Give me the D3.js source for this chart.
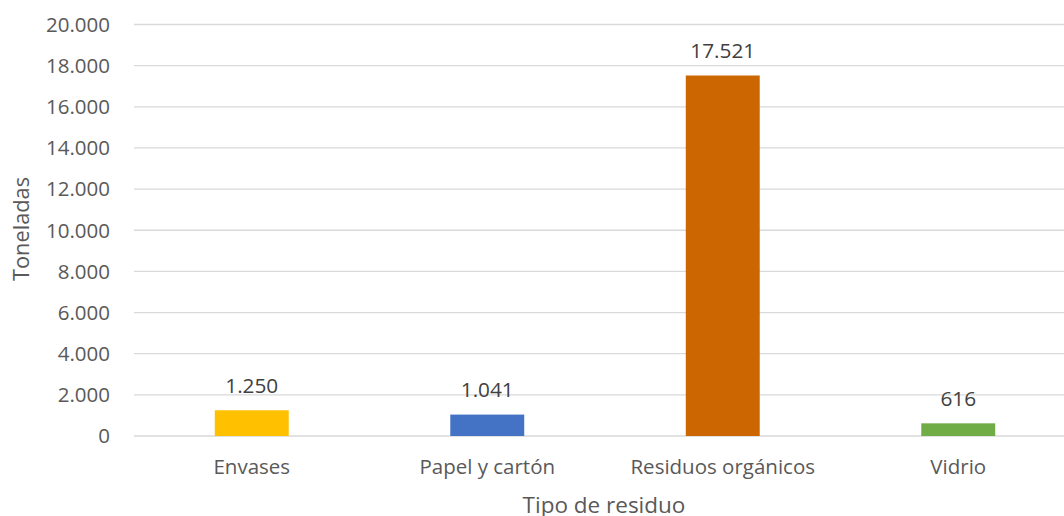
<!DOCTYPE html>
<html><head><meta charset="utf-8">
<script src="https://cdn.jsdelivr.net/npm/d3@7"></script>
<style>body{margin:0;background:#fff}svg{display:block}text{font-family:"Open Sans",sans-serif}</style>
</head><body>
<svg id="c" width="1064" height="516"></svg>
<script>
const categories = ["Envases", "Papel y cartón", "Residuos orgánicos", "Vidrio"];
const values = [1250, 1041, 17521, 616];
const colors = ["#FFC000", "#4472C4", "#CC6600", "#70AD47"];
const yTicks = [0, 2000, 4000, 6000, 8000, 10000, 12000, 14000, 16000, 18000, 20000];
const yTitle = "Toneladas";
const xTitle = "Tipo de residuo";

(function () {
const fmt = v => d3.format(",")(v).replace(/,/g, ".");
const svg = d3.select("#c");
const pl = 134, pr = 1076, pt = 24.5, pb = 436;
const font = '"Open Sans", sans-serif';
const x = d3.scaleBand().domain(categories).range([pl, pr]).paddingInner(0.686).paddingOuter(0.343);
const y = d3.scaleLinear().domain([0, 20000]).range([pb, pt]);

const grid = svg.append("g");
grid.selectAll("line").data(yTicks).join("line")
  .attr("x1", pl).attr("x2", pr)
  .attr("y1", d => y(d)).attr("y2", d => y(d))
  .attr("stroke", "#d9d9d9").attr("stroke-width", 1.3);

const yAxis = d3.axisLeft(y).tickValues(yTicks).tickFormat(fmt).tickSize(0).tickPadding(0);
const ya = svg.append("g").attr("transform", `translate(110,0)`).call(yAxis);
ya.select(".domain").remove();
ya.selectAll("text").attr("fill", "#595959").style("font-size", "20.5px").style("font-family", font).attr("dy", "0.33em");

const xAxis = d3.axisBottom(x).tickSize(0).tickPadding(0);
const xa = svg.append("g").attr("transform", `translate(0,${pb})`).call(xAxis);
xa.select(".domain").remove();
xa.selectAll("text").attr("fill", "#595959").style("font-size", "20.5px").style("font-family", font).attr("y", 31).attr("dy", "0.35em");

svg.append("g").selectAll("rect").data(values).join("rect")
  .attr("x", (d, i) => x(categories[i]))
  .attr("width", x.bandwidth())
  .attr("y", d => y(d))
  .attr("height", d => y(0) - y(d))
  .attr("fill", (d, i) => colors[i]);

svg.append("g").selectAll("text").data(values).join("text")
  .attr("x", (d, i) => x(categories[i]) + x.bandwidth() / 2)
  .attr("y", d => y(d) - 25)
  .attr("dy", "0.35em")
  .attr("text-anchor", "middle")
  .attr("fill", "#404040").style("font-size", "20.8px").style("font-family", font)
  .text(d => fmt(d));

svg.append("text").attr("transform", "translate(21,229) rotate(-90)")
  .attr("text-anchor", "middle").attr("dy", "0.35em")
  .attr("fill", "#595959").style("font-size", "21.8px").style("font-family", font).text(yTitle);

svg.append("text").attr("x", 604).attr("y", 505)
  .attr("text-anchor", "middle").attr("dy", "0.35em")
  .attr("fill", "#595959").style("font-size", "22.5px").style("font-family", font).text(xTitle);
})();
</script>
</body></html>
